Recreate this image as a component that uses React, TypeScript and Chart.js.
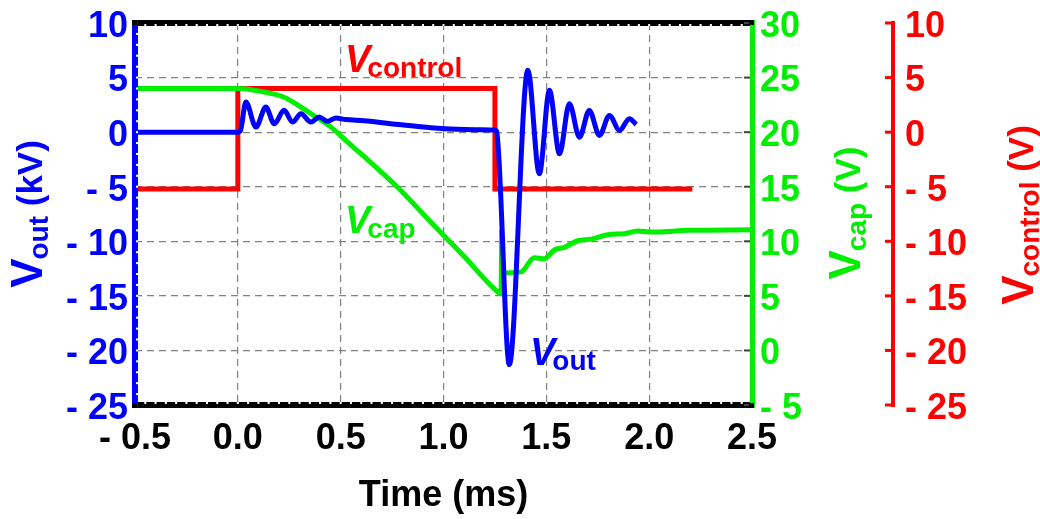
import React, { useEffect, useRef } from 'react';
import { Chart, registerables } from 'chart.js';

Chart.register(...registerables);

// ---- data (time in ms) ----
const timeTicks = [-0.5, 0, 0.5, 1, 1.5, 2, 2.5];

const voutTime = [-0.5, 0.0, 0.012, 0.039, 0.088, 0.136, 0.177, 0.225, 0.266, 0.307, 0.355, 0.396, 0.436, 0.477, 0.525, 0.613, 0.78, 0.94, 1.1, 1.25, 1.258, 1.32, 1.41, 1.466, 1.515, 1.564, 1.612, 1.661, 1.709, 1.758, 1.807, 1.856, 1.904, 1.937];
const voutKV = [0, 0, 0.1, 2.76, 0.46, 2.3, 0.77, 2.0, 0.92, 1.69, 0.92, 1.38, 1.0, 1.3, 1.15, 1.05, 0.7, 0.4, 0.25, 0.2, 0.1, -21.3, 5.67, -3.82, 3.83, -1.99, 2.61, -0.46, 1.99, -0.3, 1.53, 0.16, 1.23, 0.7];

const vcapTime = [-0.5, 0.0, 0.128, 0.225, 0.307, 0.371, 0.453, 0.534, 0.615, 0.777, 0.939, 1.101, 1.25, 1.28, 1.283, 1.287, 1.3, 1.377, 1.442, 1.49, 1.539, 1.588, 1.653, 1.718, 1.799, 1.88, 1.945, 2.01, 2.2, 2.5];
const vcapV = [24, 24, 23.68, 23.2, 22.3, 21.5, 20.46, 19.08, 17.75, 14.95, 11.75, 8.6, 5.6, 5.2, 11.0, 7.0, 7.1, 7.2, 8.5, 8.4, 9.2, 9.45, 10.05, 10.2, 10.6, 10.7, 10.95, 10.85, 11.0, 11.05];

const vctrlTime = [-0.5, 0.0, 0.0, 1.25, 1.25, 2.21];
const vctrlV = [-5.2, -5.2, 4, 4, -5.2, -5.2];

const FONT = '"Liberation Sans", Arial, Helvetica, sans-serif';
const BLUE = '#0000ff';
const GREEN = '#00ee00';
const RED = '#ff0000';

const pts = (xs: number[], ys: number[]) => xs.map((x, i) => ({ x, y: ys[i] }));

function fmt(v: number, dec: number) {
  const s = Math.abs(v).toFixed(dec);
  return v < -1e-9 ? '- ' + s : s;
}

type Part = { t: string; font: string; dy?: number; dx?: number };

function rich(ctx: CanvasRenderingContext2D, parts: Part[], x: number, y: number, rot: number, color: string, center: boolean) {
  ctx.save();
  ctx.translate(x, y);
  ctx.rotate(rot);
  ctx.fillStyle = color;
  ctx.textBaseline = 'alphabetic';
  ctx.textAlign = 'left';
  const widths = parts.map((p) => {
    ctx.font = p.font;
    return ctx.measureText(p.t).width + (p.dx || 0);
  });
  const total = widths.reduce((a, b) => a + b, 0);
  let cx = center ? -total / 2 : 0;
  parts.forEach((p, i) => {
    ctx.font = p.font;
    cx += p.dx || 0;
    ctx.fillText(p.t, cx, p.dy || 0);
    cx += widths[i] - (p.dx || 0);
  });
  ctx.restore();
}

const vT = `bold 44px ${FONT}`;
const subT = `bold 28px ${FONT}`;
const mainT = `bold 35px ${FONT}`;
const xT = `bold 36px ${FONT}`;
const vL = `italic bold 38px ${FONT}`;
const subL = `bold 28px ${FONT}`;

const decor = {
  id: 'decor',
  afterDatasetsDraw(chart: any) {
    const { ctx, chartArea: a, scales } = chart;
    const xs = scales.x;
    const ys = scales.y;
    ctx.save();
    // top & bottom black borders with white notches
    ctx.fillStyle = '#000';
    ctx.fillRect(a.left, a.top - 3, a.right - a.left, 6);
    ctx.fillRect(a.left, a.bottom - 3, a.right - a.left, 6);
    ctx.fillStyle = '#fff';
    for (let t = -0.45; t < 2.5; t += 0.05) {
      const px = xs.getPixelForValue(t);
      ctx.fillRect(px - 1, a.top + 1, 2, 2);
      ctx.fillRect(px - 1, a.bottom - 3, 2, 2);
    }
    // left blue border
    ctx.fillStyle = BLUE;
    ctx.fillRect(a.left - 3, a.top - 3, 6, a.bottom - a.top + 6);
    ctx.fillStyle = '#fff';
    for (let v = -24; v < 10; v += 1) {
      const py = ys.getPixelForValue(v);
      ctx.fillRect(a.left + 1, py - 1, 2, 2);
    }
    // right green border
    ctx.fillStyle = GREEN;
    ctx.fillRect(a.right - 2, a.top - 3, 5, a.bottom - a.top + 6);
    ctx.fillStyle = '#444';
    for (const v of [-5, 0, 5, 10, 15, 20, 25, 30]) {
      const py = scales.yCap.getPixelForValue(v);
      ctx.fillRect(a.right - 8, py - 1, 6, 2);
    }
    // corner marks
    ctx.fillStyle = '#000';
    ctx.fillRect(a.left - 3, a.top - 3, 5, 5);
    ctx.fillRect(a.left - 3, a.bottom - 2, 5, 5);
    ctx.fillRect(a.right - 3, a.top - 3, 5, 5);
    ctx.fillRect(a.right - 3, a.bottom - 2, 5, 5);
    // red axis line & ticks
    const rs = scales.yCtrl;
    const rx = rs.left;
    ctx.fillStyle = RED;
    ctx.fillRect(rx - 2, a.top - 2, 4, a.bottom - a.top + 4);
    for (const v of [-25, -20, -15, -10, -5, 0, 5, 10]) {
      const py = rs.getPixelForValue(v);
      ctx.fillRect(rx - 8, py - 1.5, 8, 3);
    }
    ctx.restore();
  },
  afterDraw(chart: any) {
    const { ctx, chartArea: a } = chart;
    const rx = chart.scales.yCtrl.left;
    // axis titles
    rich(ctx, [{ t: 'V', font: vT }, { t: 'out', font: subT, dy: 6, dx: -1 }, { t: ' (kV)', font: mainT }], 42, 214, -Math.PI / 2, BLUE, true);
    rich(ctx, [{ t: 'V', font: vT }, { t: 'cap', font: subT, dy: 6, dx: -1 }, { t: ' (V)', font: mainT }], 860, 213, -Math.PI / 2, GREEN, true);
    rich(ctx, [{ t: 'V', font: vT }, { t: 'control', font: subT, dy: 6, dx: -1 }, { t: ' (V)', font: mainT }], rx + 140, 215, -Math.PI / 2, RED, true);
    rich(ctx, [{ t: 'Time (ms)', font: xT }], (a.left + a.right) / 2, 506, 0, '#000', true);
    // in-plot labels
    rich(ctx, [{ t: 'V', font: vL }, { t: 'control', font: subL, dy: 5, dx: -3 }], 345, 72, 0, RED, false);
    rich(ctx, [{ t: 'V', font: vL }, { t: 'cap', font: subL, dy: 5, dx: -3 }], 345, 233, 0, GREEN, false);
    rich(ctx, [{ t: 'V', font: vL }, { t: 'out', font: subL, dy: 5, dx: -3 }], 530, 365, 0, BLUE, false);
  },
};

const tickFont = { family: FONT, size: 36, weight: 'bold' as const };

const noPad = (w: number) => (s: any) => {
  s.width = w;
  s.paddingTop = 0;
  s.paddingBottom = 0;
};

export default function App() {
  const ref = useRef<HTMLCanvasElement | null>(null);
  useEffect(() => {
    if (!ref.current) return;
    const chart = new Chart(ref.current, {
      type: 'line',
      data: {
        datasets: [
          {
            label: 'Vout',
            data: pts(voutTime, voutKV),
            yAxisID: 'y',
            borderColor: BLUE,
            borderWidth: 5,
            pointRadius: 0,
            cubicInterpolationMode: 'monotone',
          },
          {
            label: 'Vcap',
            data: pts(vcapTime, vcapV),
            yAxisID: 'yCap',
            borderColor: GREEN,
            borderWidth: 5,
            pointRadius: 0,
            cubicInterpolationMode: 'monotone',
          },
          {
            label: 'Vcontrol',
            data: pts(vctrlTime, vctrlV),
            yAxisID: 'yCtrl',
            borderColor: RED,
            borderWidth: 5,
            pointRadius: 0,
            tension: 0,
          },
        ],
      },
      options: {
        responsive: false,
        animation: false,
        parsing: false as any,
        layout: { padding: { top: 23, left: 0, right: 0, bottom: 0 } },
        plugins: { legend: { display: false }, tooltip: { enabled: false }, title: { display: false } },
        scales: {
          x: {
            type: 'linear',
            min: -0.5,
            max: 2.5,
            afterBuildTicks: (s: any) => {
              s.ticks = timeTicks.map((v) => ({ value: v }));
            },
            afterFit: (s: any) => {
              s.height = 114;
              s.paddingLeft = 0;
              s.paddingRight = 0;
            },
            ticks: { font: tickFont, color: '#000', padding: 12, maxRotation: 0, autoSkip: false, callback: (v: any) => fmt(Number(v), 1) },
            grid: { color: '#808080', lineWidth: 1.2, drawTicks: false },
            border: { display: false, dash: [7, 5] },
          },
          y: {
            type: 'linear',
            position: 'left',
            min: -25,
            max: 10,
            ticks: { stepSize: 5, font: tickFont, color: BLUE, padding: 7, labelOffset: 4, callback: (v: any) => fmt(Number(v), 0) },
            afterFit: noPad(135),
            grid: { color: '#808080', lineWidth: 1.2, drawTicks: false },
            border: { display: false, dash: [7, 5] },
          },
          yCap: {
            type: 'linear',
            position: 'right',
            min: -5,
            max: 30,
            ticks: { stepSize: 5, font: tickFont, color: GREEN, padding: 8, labelOffset: 4, callback: (v: any) => fmt(Number(v), 0) },
            afterFit: noPad(141),
            grid: { display: false, drawTicks: false },
            border: { display: false },
          },
          yCtrl: {
            type: 'linear',
            position: 'right',
            min: -25,
            max: 10,
            ticks: { stepSize: 5, font: tickFont, color: RED, padding: 12, labelOffset: 4, callback: (v: any) => fmt(Number(v), 0) },
            afterFit: noPad(147),
            grid: { display: false, drawTicks: false },
            border: { display: false },
          },
        },
      } as any,
      plugins: [decor],
    });
    return () => chart.destroy();
  }, []);
  return (
    <div style={{ position: 'fixed', left: 0, top: 0, width: 1040, height: 519, background: '#fff' }}>
      <canvas ref={ref} width={1040} height={519} />
    </div>
  );
}
